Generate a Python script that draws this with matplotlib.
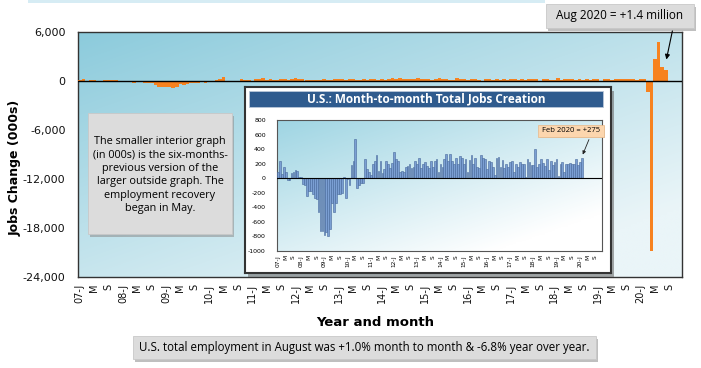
import matplotlib
matplotlib.use("Agg")
import matplotlib.pyplot as plt
from matplotlib.patches import Rectangle
import numpy as np

# monthly change in US nonfarm payrolls (000s), Jan 2007 - Aug 2020
jobs_2007 = [85, 238, 60, 150, 80, -30, -25, 75, 80, 110, 105, 10]
jobs_2008 = [15, -80, -90, -240, -180, -180, -210, -270, -290, -460, -720, -730]
jobs_2009 = [-780, -740, -800, -700, -340, -470, -340, -210, -220, -200, 10, -270]
jobs_2010 = [-10, -90, 180, 230, 540, -130, -90, -60, -60, 265, 125, 80]
jobs_2011 = [40, 190, 230, 320, 100, 230, 70, 120, 240, 200, 140, 210]
jobs_2012 = [360, 260, 240, 80, 100, 80, 160, 170, 190, 140, 160, 230]
jobs_2013 = [190, 280, 140, 190, 220, 170, 140, 240, 160, 230, 270, 80]
jobs_2014 = [190, 160, 270, 330, 230, 330, 230, 190, 280, 200, 310, 280]
jobs_2015 = [200, 270, 80, 250, 320, 200, 280, 150, 140, 320, 280, 270]
jobs_2016 = [130, 240, 220, 160, 40, 280, 290, 150, 250, 140, 190, 160]
jobs_2017 = [220, 230, 80, 200, 150, 220, 190, 200, 20, 260, 220, 180]
jobs_2018 = [180, 400, 150, 200, 270, 210, 170, 270, 110, 240, 180, 220]
jobs_2019 = [270, 30, 190, 220, 80, 190, 190, 210, 200, 200, 260, 180]
jobs_2020 = [220, 275, -1373, -20787, 2725, 4781, 1734, 1371]

jobs = (jobs_2007 + jobs_2008 + jobs_2009 + jobs_2010 + jobs_2011 + jobs_2012
        + jobs_2013 + jobs_2014 + jobs_2015 + jobs_2016 + jobs_2017 + jobs_2018
        + jobs_2019 + jobs_2020)
jobs_inset = jobs[:158]  # up to Feb 2020

first_year = 2007
n_months = 168  # axis runs Jan 2007 - Dec 2020

tick_pos = list(range(0, n_months, 4))
tick_lab = []
for i in tick_pos:
    m = i % 12
    if m == 0:
        tick_lab.append("%02d-J" % ((first_year + i // 12) % 100))
    elif m == 4:
        tick_lab.append("M")
    else:
        tick_lab.append("S")

W, H = 701, 368

def fx(px):
    return px / W

def fy(py):
    return 1 - py / H

def box(x0, y0, x1, y1):
    return [fx(x0), fy(y1), fx(x1) - fx(x0), fy(y0) - fy(y1)]

def gradient(ax, c_tl, c_br):
    c_tl = np.array(matplotlib.colors.to_rgb(c_tl))
    c_br = np.array(matplotlib.colors.to_rgb(c_br))
    yy, xx = np.mgrid[0:1:100j, 0:1:100j]
    t = np.clip((xx * 0.6 + yy * 0.7) / 1.1, 0, 1)[..., None]
    img = c_tl * (1 - t) + c_br * t
    ax.imshow(img, extent=[0, 1, 0, 1], transform=ax.transAxes,
              aspect="auto", zorder=0, interpolation="bilinear")

def shadow_rect(x0, y0, x1, y1, face, edge, z):
    fig.add_artist(Rectangle((fx(x0 + 2), fy(y1 + 3)), fx(x1) - fx(x0), fy(y0) - fy(y1),
                             transform=fig.transFigure, facecolor="#8c8c8c",
                             edgecolor="none", alpha=0.55, zorder=z))
    fig.add_artist(Rectangle((fx(x0), fy(y1)), fx(x1) - fx(x0), fy(y0) - fy(y1),
                             transform=fig.transFigure, facecolor=face,
                             edgecolor=edge, linewidth=0.6, zorder=z + 0.1))

fig = plt.figure(figsize=(W / 100, H / 100), dpi=100)
fig.patch.set_facecolor("white")

orange = "#F7821F"

# ---- outer chart ----
ax = fig.add_axes(box(78, 32, 682, 277))
ax.set_zorder(1)
gradient(ax, "#8ccbdc", "#eaf5f8")
x = np.arange(len(jobs))
ax.bar(x, jobs, width=1.0, color=orange, zorder=3)
ax.axhline(0, color="black", lw=1.0, zorder=4)
ax.set_xlim(-0.5, n_months - 0.5)
ax.set_ylim(-24000, 6000)
ax.set_yticks(range(-24000, 6001, 6000))
ax.set_yticklabels(["{:,}".format(v) for v in range(-24000, 6001, 6000)],
                   fontsize=8, color="#111111")
ax.set_xticks(tick_pos)
ax.set_xticklabels(tick_lab, rotation=90, fontsize=7, color="#111111")
ax.tick_params(axis="y", length=0, pad=9)
ax.tick_params(axis="x", length=0, pad=5)
for s in ax.spines.values():
    s.set_color("#333333")
    s.set_linewidth(1.0)

fig.text(fx(15), fy(168), "Jobs Change (000s)", rotation=90, ha="center",
         va="center", fontsize=9, fontweight="bold")
fig.text(fx(375), fy(322), "Year and month", ha="center", va="center",
         fontsize=9.5, fontweight="bold")

# note box on the left
shadow_rect(88, 113, 232, 234, "#dcdcdc", "#c8c8c8", 2)
fig.text(fx(160), fy(175),
         "The smaller interior graph\n(in 000s) is the six-months-\nprevious version of the\n"
         "larger outside graph. The\nemployment recovery\nbegan in May.",
         ha="center", va="center", fontsize=7.8, family="Open Sans",
         linespacing=1.3, zorder=3)

# top right callout
shadow_rect(546, 4, 694, 28, "#dcdcdc", "#c8c8c8", 2)
fig.text(fx(620), fy(16), "Aug 2020 = +1.4 million", ha="center", va="center",
         fontsize=8.5, family="Open Sans", zorder=3)
ax.annotate("", xy=(163, 2300), xycoords="data",
            xytext=(fx(673), fy(28)), textcoords="figure fraction",
            arrowprops=dict(arrowstyle="-|>", color="black", lw=0.8,
                            mutation_scale=7), zorder=6, annotation_clip=False)

# bottom summary box
shadow_rect(133, 336, 596, 359, "#dcdcdc", "#c8c8c8", 2)
fig.text(fx(364), fy(347),
         "U.S. total employment in August was +1.0% month to month & -6.8% year over year.",
         ha="center", va="center", fontsize=8.3, family="Open Sans", zorder=3)

# thin strip at the very top
fig.add_artist(Rectangle((fx(28), fy(3)), fx(545) - fx(28), 3 / H,
                         transform=fig.transFigure, facecolor="#d6ecf4",
                         edgecolor="none", zorder=1))

# ---- inset chart ----
fig.add_artist(Rectangle((fx(248), fy(277)), fx(366), 186 / H,
                         transform=fig.transFigure, facecolor="#6e6e6e",
                         edgecolor="none", alpha=0.6, zorder=4))
axb = fig.add_axes(box(245, 87, 611, 273))
axb.set_zorder(5)
axb.set_facecolor("white")
axb.set_xticks([])
axb.set_yticks([])
for s in axb.spines.values():
    s.set_color("#333333")
    s.set_linewidth(1.5)
axb.add_patch(Rectangle(((249 - 245) / 366, (273 - 107) / 186), (603 - 249) / 366,
                        16 / 186, transform=axb.transAxes, facecolor="#2f5b8e",
                        edgecolor="#b9c7d8", lw=0.6))
axb.text((249 + 603) / 2 / 366 - 245 / 366, (273 - 99) / 186,
         "U.S.: Month-to-month Total Jobs Creation", transform=axb.transAxes,
         ha="center", va="center", color="white", fontsize=8.5,
         fontweight="bold", family="Open Sans")

axi = fig.add_axes(box(277, 120, 602, 251))
axi.set_zorder(6)
gradient(axi, "#9fd5e3", "#ffffff")
xi = np.arange(len(jobs_inset))
axi.bar(xi, jobs_inset, width=0.9, color="#7b9fd3", edgecolor="#46679a",
        linewidth=0.4, zorder=3)
axi.axhline(0, color="black", lw=0.8, zorder=4)
axi.set_xlim(-0.5, n_months - 0.5)
axi.set_ylim(-1000, 800)
axi.set_yticks(range(-1000, 801, 200))
axi.set_yticklabels([str(v) for v in range(-1000, 801, 200)], fontsize=4.5)
axi.set_xticks(tick_pos)
axi.set_xticklabels(tick_lab, rotation=90, fontsize=4.2)
axi.tick_params(axis="y", length=0, pad=8)
axi.tick_params(axis="x", length=0, pad=3)
for s in axi.spines.values():
    s.set_color("#555555")
    s.set_linewidth(0.8)

# Feb 2020 callout inside inset
fig.add_artist(Rectangle((fx(540), fy(138)), fx(605) - fx(540), 12 / H,
                         transform=fig.transFigure, facecolor="#b9a58f",
                         edgecolor="none", alpha=0.5, zorder=7))
fig.add_artist(Rectangle((fx(538), fy(137)), fx(604) - fx(538), 12 / H,
                         transform=fig.transFigure, facecolor="#fcd6ae",
                         edgecolor="#e8b888", lw=0.5, zorder=7.1))
fig.text(fx(571), fy(131), "Feb 2020 = +275", ha="center", va="center",
         fontsize=5.5, family="Open Sans", zorder=7.2)
axi.annotate("", xy=(157, 290), xycoords="data",
             xytext=(fx(590), fy(137)), textcoords="figure fraction",
             arrowprops=dict(arrowstyle="-|>", color="#222222", lw=0.6,
                             mutation_scale=5), zorder=8, annotation_clip=False)

fig.savefig("out.png", dpi=100)
